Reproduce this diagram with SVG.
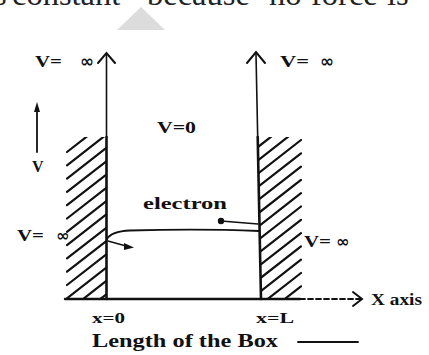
<svg xmlns="http://www.w3.org/2000/svg" width="429" height="355" viewBox="0 0 429 355">
  <style>
    .lbl { font-family: "Liberation Serif", "DejaVu Serif", serif; font-weight: bold; fill: #111; }
    .inf { font-family: "DejaVu Sans", sans-serif; font-weight: bold; fill: #111; }
    .ln { stroke: #111; fill: none; stroke-linecap: round; }
    .hatch line { stroke: #111; stroke-width: 2.2; stroke-linecap: round; }
  </style>
  <defs>
    <clipPath id="clipL"><rect x="66" y="137" width="40" height="162"/></clipPath>
    <clipPath id="clipR"><polygon points="257.7,137 302,137 302,299 261,299"/></clipPath>
  </defs>
  <rect width="429" height="355" fill="#ffffff"/>

  <!-- cut-off page text -->
  <text font-family="Liberation Serif, serif" font-size="32.5" fill="#222" y="5"><tspan x="-15">is</tspan><tspan x="12">constant</tspan><tspan x="147">because</tspan><tspan x="269">no</tspan><tspan x="311">force</tspan><tspan x="387">is</tspan></text>
  <polygon points="141,7 165,30 117,30" fill="#dcdcdc"/>

  <g id="walls">
    <g class="hatch" clip-path="url(#clipL)">
      <line x1="67" y1="152" x2="106" y2="121.6"/>
      <line x1="67" y1="165.3" x2="106" y2="134.9"/>
      <line x1="67" y1="178.6" x2="106" y2="148.2"/>
      <line x1="67" y1="191.9" x2="106" y2="161.5"/>
      <line x1="67" y1="205.2" x2="106" y2="174.8"/>
      <line x1="67" y1="218.5" x2="106" y2="188.1"/>
      <line x1="67" y1="231.8" x2="106" y2="201.4"/>
      <line x1="67" y1="245.1" x2="106" y2="214.7"/>
      <line x1="67" y1="258.4" x2="106" y2="228"/>
      <line x1="67" y1="271.7" x2="106" y2="241.3"/>
      <line x1="67" y1="285" x2="106" y2="254.6"/>
      <line x1="67" y1="298.3" x2="106" y2="267.9"/>
      <line x1="67" y1="311.6" x2="106" y2="281.2"/>
      <line x1="67" y1="324.9" x2="106" y2="294.5"/>
    </g>
    <g class="hatch" clip-path="url(#clipR)">
      <line x1="255" y1="149.3" x2="301" y2="113.4"/>
      <line x1="255" y1="162.6" x2="301" y2="126.7"/>
      <line x1="255" y1="175.9" x2="301" y2="140"/>
      <line x1="255" y1="189.2" x2="301" y2="153.3"/>
      <line x1="255" y1="202.5" x2="301" y2="166.6"/>
      <line x1="255" y1="215.8" x2="301" y2="179.9"/>
      <line x1="255" y1="229.1" x2="301" y2="193.2"/>
      <line x1="255" y1="242.4" x2="301" y2="206.5"/>
      <line x1="255" y1="255.7" x2="301" y2="219.8"/>
      <line x1="255" y1="269" x2="301" y2="233.1"/>
      <line x1="255" y1="282.3" x2="301" y2="246.4"/>
      <line x1="255" y1="295.6" x2="301" y2="259.7"/>
      <line x1="255" y1="308.9" x2="301" y2="273"/>
      <line x1="255" y1="322.2" x2="301" y2="286.3"/>
    </g>
  </g>

  <g id="connectors">
    <!-- left potential axis -->
    <line class="ln" x1="106.5" y1="54" x2="106.5" y2="137" stroke-width="1.6"/>
    <line class="ln" x1="106.5" y1="137" x2="106.5" y2="299" stroke-width="2.6"/>
    <polyline class="ln" points="98,63 106.5,53 115,63" stroke-width="2"/>
    <!-- right potential axis -->
    <line class="ln" x1="256" y1="54" x2="257.7" y2="137" stroke-width="1.6"/>
    <line class="ln" x1="257.7" y1="137" x2="261" y2="299" stroke-width="2.6"/>
    <polyline class="ln" points="247,63 256,52 265,63" stroke-width="2"/>
    <!-- x axis -->
    <line class="ln" x1="65" y1="299" x2="300" y2="299" stroke-width="2.4"/>
    <line class="ln" x1="300" y1="299" x2="361" y2="299" stroke-width="1.8" stroke-dasharray="5,3"/>
    <polyline class="ln" points="353,292 362,299 353,306" stroke-width="2"/>
    <!-- V arrow -->
    <line class="ln" x1="37" y1="152" x2="37" y2="110" stroke-width="1.8"/>
    <polygon points="37,102 34,112 40,112" fill="#111"/>
    <!-- Length arrow -->
    <line class="ln" x1="298" y1="342" x2="358" y2="342" stroke-width="1.8"/>
    <!-- wave / electron path -->
    <path class="ln" d="M107,239 Q111,231.5 130,230.5 Q200,228.5 259,231" stroke-width="1.8"/>
    <circle cx="221" cy="221" r="3.2" fill="#111"/>
    <line class="ln" x1="221" y1="221" x2="258" y2="224" stroke-width="1.5"/>
    <line class="ln" x1="108" y1="241" x2="126" y2="246" stroke-width="1.5"/>
    <polygon points="134,247.5 124,243 124,250" fill="#111"/>
  </g>

  <g id="labels">
    <text class="lbl" font-size="17" y="67"><tspan x="35" textLength="27" lengthAdjust="spacingAndGlyphs">V=</tspan><tspan class="inf" x="80" font-size="17">∞</tspan></text>
    <text class="lbl" font-size="17" y="67"><tspan x="280" textLength="29" lengthAdjust="spacingAndGlyphs">V=</tspan><tspan class="inf" x="320" font-size="17">∞</tspan></text>
    <text class="lbl" font-size="16" x="157" y="133" textLength="39" lengthAdjust="spacingAndGlyphs">V=0</text>
    <text class="lbl" font-size="16" x="32" y="172">V</text>
    <text class="lbl" font-size="16" y="241"><tspan x="17" textLength="27" lengthAdjust="spacingAndGlyphs">V=</tspan><tspan class="inf" x="56" font-size="16">∞</tspan></text>
    <text class="lbl" font-size="16" y="247"><tspan x="304" textLength="27" lengthAdjust="spacingAndGlyphs">V=</tspan><tspan class="inf" x="336" font-size="16">∞</tspan></text>
    <text class="lbl" font-size="17" x="143" y="209" textLength="84" lengthAdjust="spacingAndGlyphs">electron</text>
    <text class="lbl" font-size="17" x="371" y="305" textLength="51" lengthAdjust="spacingAndGlyphs">X axis</text>
    <text class="lbl" font-size="15" x="92" y="323" textLength="33" lengthAdjust="spacingAndGlyphs">x=0</text>
    <text class="lbl" font-size="15" x="256" y="323" textLength="38" lengthAdjust="spacingAndGlyphs">x=L</text>
    <text class="lbl" font-size="19" x="92" y="347" textLength="186" lengthAdjust="spacingAndGlyphs">Length of the Box</text>
  </g>
</svg>
